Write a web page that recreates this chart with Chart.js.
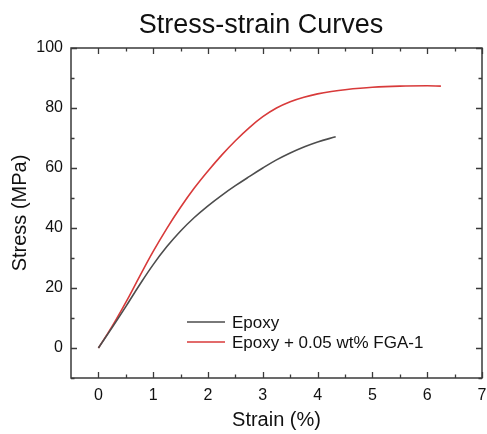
<!DOCTYPE html>
<html>
<head>
<meta charset="utf-8">
<script src="https://cdn.jsdelivr.net/npm/chart.js@4"></script>
<style>
  html, body { margin: 0; padding: 0; background: #fff; }
  #wrap { width: 487px; height: 434px; }
</style>
</head>
<body>
<div id="wrap"><canvas id="chart" width="487" height="434"></canvas></div>
<script>
const FONT = '"Liberation Sans", Arial, Helvetica, sans-serif';

// strain (%) / stress (MPa)
const epoxyStrain = [0, 0.25, 0.5, 0.75, 1, 1.25, 1.5, 1.75, 2, 2.25, 2.5, 2.75, 3, 3.25, 3.5, 3.75, 4, 4.33];
const epoxyStress = [0, 6.8, 13.8, 21, 27.8, 33.8, 39, 43.5, 47.4, 50.9, 54.1, 57.1, 60, 62.7, 65, 67, 68.7, 70.4];
const fgaStrain = [0, 0.25, 0.5, 0.75, 1, 1.25, 1.5, 1.75, 2, 2.25, 2.5, 2.75, 3, 3.25, 3.5, 3.75, 4, 4.25, 4.5, 5, 5.5, 6, 6.25];
const fgaStress = [0, 7.2, 15.2, 23.8, 32.2, 39.9, 46.9, 53.3, 59, 64.3, 69.1, 73.4, 77.1, 80, 82.1, 83.6, 84.7, 85.5, 86.1, 86.9, 87.3, 87.4, 87.3];

const xTicks = [0, 1, 2, 3, 4, 5, 6, 7];
const xMinor = [0.5, 1.5, 2.5, 3.5, 4.5, 5.5, 6.5];
const yTicks = [0, 20, 40, 60, 80, 100];
const yMinor = [-10, 10, 30, 50, 70, 90];

const toPoints = (xs, ys) => xs.map((x, i) => ({ x: x, y: ys[i] }));

// frame, inward ticks on all four sides, title and inset legend
const decorations = {
    id: 'decorations',
    afterDatasetsDraw(chart) {
        const { ctx, chartArea: a, scales } = chart;
        ctx.save();
        ctx.strokeStyle = '#3a3a3a';
        ctx.lineWidth = 1.5;
        ctx.strokeRect(a.left, a.top, a.right - a.left, a.bottom - a.top);

        ctx.lineWidth = 1.3;
        ctx.beginPath();
        const xt = (vals, len) => vals.forEach(v => {
            const px = Math.round(scales.x.getPixelForValue(v)) + 0.5;
            ctx.moveTo(px, a.bottom); ctx.lineTo(px, a.bottom - len);
            ctx.moveTo(px, a.top); ctx.lineTo(px, a.top + len);
        });
        const yt = (vals, len) => vals.forEach(v => {
            const py = Math.round(scales.y.getPixelForValue(v)) + 0.5;
            ctx.moveTo(a.left, py); ctx.lineTo(a.left + len, py);
            ctx.moveTo(a.right, py); ctx.lineTo(a.right - len, py);
        });
        xt(xTicks, 6); xt(xMinor, 3.5);
        yt(yTicks, 6); yt(yMinor, 3.5);
        ctx.stroke();

        // title
        ctx.fillStyle = '#111';
        ctx.font = '27px ' + FONT;
        ctx.textAlign = 'center';
        ctx.textBaseline = 'alphabetic';
        ctx.fillText('Stress-strain Curves', 261, 33);

        // legend
        ctx.font = '17px ' + FONT;
        ctx.textAlign = 'left';
        ctx.textBaseline = 'middle';
        chart.data.datasets.forEach((ds, i) => {
            const y = 322 + i * 20;
            ctx.strokeStyle = ds.borderColor;
            ctx.lineWidth = ds.borderWidth;
            ctx.beginPath();
            ctx.moveTo(187, y); ctx.lineTo(225, y);
            ctx.stroke();
            ctx.fillStyle = '#111';
            ctx.fillText(ds.label, 232, y + 1);
        });
        ctx.restore();
    }
};

new Chart(document.getElementById('chart'), {
    type: 'scatter',
    data: {
        datasets: [
            {
                label: 'Epoxy',
                data: toPoints(epoxyStrain, epoxyStress),
                borderColor: '#4d4d4d',
                borderWidth: 1.6,
                showLine: true,
                pointRadius: 0,
                tension: 0.4
            },
            {
                label: 'Epoxy + 0.05 wt% FGA-1',
                data: toPoints(fgaStrain, fgaStress),
                borderColor: '#d83a3a',
                borderWidth: 1.6,
                showLine: true,
                pointRadius: 0,
                tension: 0.4
            }
        ]
    },
    options: {
        responsive: false,
        animation: false,
        layout: { padding: { left: 0, right: 5, top: 48, bottom: 0 } },
        plugins: {
            legend: { display: false },
            tooltip: { enabled: false }
        },
        scales: {
            x: {
                type: 'linear',
                min: -0.5,
                max: 7,
                afterBuildTicks: s => { s.ticks = xTicks.map(v => ({ value: v })); },
                afterFit: s => { s.height = 56; s.paddingLeft = 0; s.paddingRight = 0; },
                grid: { display: false, drawTicks: false },
                border: { display: false },
                ticks: { color: '#111', font: { family: FONT, size: 16 }, padding: 8 },
                title: {
                    display: true,
                    text: 'Strain (%)',
                    color: '#111',
                    font: { family: FONT, size: 20 },
                    padding: { top: 0, bottom: 2 }
                }
            },
            y: {
                type: 'linear',
                min: -10,
                max: 100,
                afterBuildTicks: s => { s.ticks = yTicks.map(v => ({ value: v })); },
                afterFit: s => { s.width = 71; s.paddingTop = 0; s.paddingBottom = 0; },
                grid: { display: false, drawTicks: false },
                border: { display: false },
                ticks: { color: '#111', font: { family: FONT, size: 16 }, padding: 8 },
                title: {
                    display: true,
                    text: 'Stress (MPa)',
                    color: '#111',
                    font: { family: FONT, size: 20 },
                    padding: { top: 8, bottom: 0 }
                }
            }
        }
    },
    plugins: [decorations]
});
</script>
</body>
</html>
